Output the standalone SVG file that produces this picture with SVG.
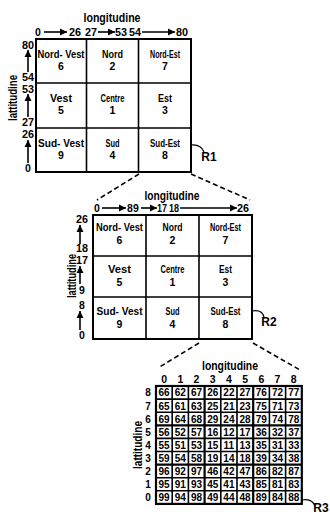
<svg xmlns="http://www.w3.org/2000/svg" width="330" height="521" viewBox="0 0 330 521">
<style>
text{font-family:"Liberation Sans",Arial,sans-serif;font-weight:bold;fill:#000;text-anchor:middle}
.lbl{font-size:10.5px}
.ax{font-size:10.5px}
.ttl{font-size:12px}
.num{font-size:10px}
.box{fill:#fff;stroke:#000;stroke-width:2}
.ln{stroke:#000;stroke-width:1.6;fill:none}
.thk{stroke:#000;stroke-width:2.2;fill:none}
.arr{stroke:#000;stroke-width:1.6;fill:none;marker-end:url(#ah)}
.dash{stroke:#000;stroke-width:1.6;fill:none;stroke-dasharray:5 3}
.cur{stroke:#000;stroke-width:1.2;fill:none}
</style>
<defs>
<marker id="ah" markerUnits="userSpaceOnUse" markerWidth="8" markerHeight="8" refX="7" refY="4" orient="auto">
<path d="M0,0.5 L7,4 L0,7.5 Z" fill="#000"/>
</marker>
</defs>

<g id="R1">
<rect class="box" x="36" y="39" width="155" height="133"/>
<path class="ln" d="M86.5,39V172M138.5,39V172M36,83H191M36,128H191"/>
<text class="ttl" x="112" y="21.5" textLength="57" lengthAdjust="spacingAndGlyphs">longitudine</text>
<g class="ax">
<text x="38" y="36">0</text><text x="75" y="36" textLength="12" lengthAdjust="spacingAndGlyphs">26</text><text x="91" y="36" textLength="12" lengthAdjust="spacingAndGlyphs">27</text>
<text x="121" y="36" textLength="12" lengthAdjust="spacingAndGlyphs">53</text><text x="135" y="36" textLength="12" lengthAdjust="spacingAndGlyphs">54</text><text x="182" y="36" textLength="12" lengthAdjust="spacingAndGlyphs">80</text>
<text x="28" y="49" textLength="12" lengthAdjust="spacingAndGlyphs">80</text><text x="28" y="80.5" textLength="12" lengthAdjust="spacingAndGlyphs">54</text><text x="28" y="92.5" textLength="12" lengthAdjust="spacingAndGlyphs">53</text>
<text x="28" y="126" textLength="12" lengthAdjust="spacingAndGlyphs">27</text><text x="28" y="138" textLength="12" lengthAdjust="spacingAndGlyphs">26</text><text x="28" y="172">0</text>
</g>
<text class="ttl" transform="translate(17,98) rotate(-90)" textLength="46" lengthAdjust="spacingAndGlyphs">lattitudine</text>
<g class="lbl">
<text x="61" y="57.5" textLength="47" lengthAdjust="spacingAndGlyphs">Nord- Vest</text><text x="61" y="70">6</text>
<text x="112.5" y="57.5" textLength="21" lengthAdjust="spacingAndGlyphs">Nord</text><text x="112.5" y="70">2</text>
<text x="165" y="57.5" textLength="30" lengthAdjust="spacingAndGlyphs">Nord-Est</text><text x="165" y="70">7</text>
<text x="61" y="101.5" textLength="22" lengthAdjust="spacingAndGlyphs">Vest</text><text x="61" y="114">5</text>
<text x="112.5" y="101.5" textLength="24" lengthAdjust="spacingAndGlyphs">Centre</text><text x="112.5" y="114">1</text>
<text x="165" y="101.5" textLength="14" lengthAdjust="spacingAndGlyphs">Est</text><text x="165" y="114">3</text>
<text x="61" y="146.5" textLength="46" lengthAdjust="spacingAndGlyphs">Sud- Vest</text><text x="61" y="159">9</text>
<text x="112.5" y="146.5" textLength="14" lengthAdjust="spacingAndGlyphs">Sud</text><text x="112.5" y="159">4</text>
<text x="165" y="146.5" textLength="30" lengthAdjust="spacingAndGlyphs">Sud-Est</text><text x="165" y="159">8</text>
</g>
<text class="ttl" x="209" y="161">R1</text>
</g>

<g id="R2">
<rect class="box" x="93" y="215" width="159" height="124"/>
<path class="ln" d="M146,215V339M199,215V339M93,256H252M93,297H252"/>
<text class="ttl" x="172" y="200" textLength="55" lengthAdjust="spacingAndGlyphs">longitudine</text>
<g class="ax">
<text x="97" y="212">0</text><text x="130" y="212">8</text><text x="136" y="212">9</text>
<text x="162" y="212" textLength="10" lengthAdjust="spacingAndGlyphs">17</text><text x="174" y="212" textLength="10" lengthAdjust="spacingAndGlyphs">18</text><text x="243" y="212" textLength="12" lengthAdjust="spacingAndGlyphs">26</text>
<text x="82" y="223" textLength="12" lengthAdjust="spacingAndGlyphs">26</text><text x="82" y="252" textLength="12" lengthAdjust="spacingAndGlyphs">18</text><text x="82" y="264" textLength="12" lengthAdjust="spacingAndGlyphs">17</text>
<text x="82" y="294">9</text><text x="82" y="309">8</text><text x="82" y="339">0</text>
</g>
<text class="ttl" transform="translate(76,276) rotate(-90)" textLength="44" lengthAdjust="spacingAndGlyphs">lattitudine</text>
<g class="lbl">
<text x="119.5" y="231" textLength="47" lengthAdjust="spacingAndGlyphs">Nord- Vest</text><text x="119.5" y="243.5">6</text>
<text x="172.5" y="231" textLength="20" lengthAdjust="spacingAndGlyphs">Nord</text><text x="172.5" y="243.5">2</text>
<text x="225.5" y="231" textLength="31" lengthAdjust="spacingAndGlyphs">Nord-Est</text><text x="225.5" y="243.5">7</text>
<text x="119.5" y="273" textLength="23" lengthAdjust="spacingAndGlyphs">Vest</text><text x="119.5" y="285.5">5</text>
<text x="172.5" y="273" textLength="24" lengthAdjust="spacingAndGlyphs">Centre</text><text x="172.5" y="285.5">1</text>
<text x="225.5" y="273" textLength="13" lengthAdjust="spacingAndGlyphs">Est</text><text x="225.5" y="285.5">3</text>
<text x="119.5" y="315" textLength="46" lengthAdjust="spacingAndGlyphs">Sud- Vest</text><text x="119.5" y="327.5">9</text>
<text x="172.5" y="315" textLength="14" lengthAdjust="spacingAndGlyphs">Sud</text><text x="172.5" y="327.5">4</text>
<text x="225.5" y="315" textLength="30" lengthAdjust="spacingAndGlyphs">Sud-Est</text><text x="225.5" y="327.5">8</text>
</g>
<text class="ttl" x="269" y="326">R2</text>
</g>

<g id="R3">
<rect x="156" y="386" width="145.8" height="117.9" fill="#fff" stroke="#000" stroke-width="2.2"/>
<path class="ln" d="M172.2,386V503.9M188.4,386V503.9M220.8,386V503.9M237,386V503.9M269.4,386V503.9M285.6,386V503.9M156,399.1H301.8M156,412.2H301.8M156,438.4H301.8M156,451.5H301.8M156,477.7H301.8M156,490.8H301.8"/>
<path class="thk" d="M204.6,386V503.9M253.2,386V503.9M156,425.3H301.8M156,464.6H301.8"/>
<text class="ttl" x="230" y="370" textLength="56" lengthAdjust="spacingAndGlyphs">longitudine</text>
<g class="ax">
<text x="164.1" y="382.5">0</text><text x="180.3" y="382.5">1</text><text x="196.5" y="382.5">2</text><text x="212.7" y="382.5">3</text><text x="228.9" y="382.5">4</text><text x="245.1" y="382.5">5</text><text x="261.3" y="382.5">6</text><text x="277.5" y="382.5">7</text><text x="293.7" y="382.5">8</text>
</g>
<g class="num">
<text x="148" y="396.4">8</text><text x="148" y="409.5">7</text><text x="148" y="422.6">6</text><text x="148" y="435.7">5</text><text x="148" y="448.8">4</text><text x="148" y="461.9">3</text><text x="148" y="475">2</text><text x="148" y="488.1">1</text><text x="148" y="501.2">0</text>
</g>
<text class="ttl" transform="translate(142,445) rotate(-90)" textLength="48" lengthAdjust="spacingAndGlyphs">lattitudine</text>
<g class="num">
<text x="164.1" y="396.4">66</text><text x="180.3" y="396.4">62</text><text x="196.5" y="396.4">67</text><text x="212.7" y="396.4">26</text><text x="228.9" y="396.4">22</text><text x="245.1" y="396.4">27</text><text x="261.3" y="396.4">76</text><text x="277.5" y="396.4">72</text><text x="293.7" y="396.4">77</text>
<text x="164.1" y="409.5">65</text><text x="180.3" y="409.5">61</text><text x="196.5" y="409.5">63</text><text x="212.7" y="409.5">25</text><text x="228.9" y="409.5">21</text><text x="245.1" y="409.5">23</text><text x="261.3" y="409.5">75</text><text x="277.5" y="409.5">71</text><text x="293.7" y="409.5">73</text>
<text x="164.1" y="422.6">69</text><text x="180.3" y="422.6">64</text><text x="196.5" y="422.6">68</text><text x="212.7" y="422.6">29</text><text x="228.9" y="422.6">24</text><text x="245.1" y="422.6">28</text><text x="261.3" y="422.6">79</text><text x="277.5" y="422.6">74</text><text x="293.7" y="422.6">78</text>
<text x="164.1" y="435.7">56</text><text x="180.3" y="435.7">52</text><text x="196.5" y="435.7">57</text><text x="212.7" y="435.7">16</text><text x="228.9" y="435.7">12</text><text x="245.1" y="435.7">17</text><text x="261.3" y="435.7">36</text><text x="277.5" y="435.7">32</text><text x="293.7" y="435.7">37</text>
<text x="164.1" y="448.8">55</text><text x="180.3" y="448.8">51</text><text x="196.5" y="448.8">53</text><text x="212.7" y="448.8">15</text><text x="228.9" y="448.8">11</text><text x="245.1" y="448.8">13</text><text x="261.3" y="448.8">35</text><text x="277.5" y="448.8">31</text><text x="293.7" y="448.8">33</text>
<text x="164.1" y="461.9">59</text><text x="180.3" y="461.9">54</text><text x="196.5" y="461.9">58</text><text x="212.7" y="461.9">19</text><text x="228.9" y="461.9">14</text><text x="245.1" y="461.9">18</text><text x="261.3" y="461.9">39</text><text x="277.5" y="461.9">34</text><text x="293.7" y="461.9">38</text>
<text x="164.1" y="475">96</text><text x="180.3" y="475">92</text><text x="196.5" y="475">97</text><text x="212.7" y="475">46</text><text x="228.9" y="475">42</text><text x="245.1" y="475">47</text><text x="261.3" y="475">86</text><text x="277.5" y="475">82</text><text x="293.7" y="475">87</text>
<text x="164.1" y="488.1">95</text><text x="180.3" y="488.1">91</text><text x="196.5" y="488.1">93</text><text x="212.7" y="488.1">45</text><text x="228.9" y="488.1">41</text><text x="245.1" y="488.1">43</text><text x="261.3" y="488.1">85</text><text x="277.5" y="488.1">81</text><text x="293.7" y="488.1">83</text>
<text x="164.1" y="501.2">99</text><text x="180.3" y="501.2">94</text><text x="196.5" y="501.2">98</text><text x="212.7" y="501.2">49</text><text x="228.9" y="501.2">44</text><text x="245.1" y="501.2">48</text><text x="261.3" y="501.2">89</text><text x="277.5" y="501.2">84</text><text x="293.7" y="501.2">88</text>
</g>
<text class="ttl" x="321" y="512">R3</text>
</g>

<g id="connectors">
<path class="arr" d="M44,32H67"/>
<path class="arr" d="M98,32H115"/>
<path class="arr" d="M142,32H175"/>
<path class="arr" d="M28,72V50"/>
<path class="arr" d="M28,117V94"/>
<path class="arr" d="M28,163V140"/>
<path class="arr" d="M102,208H126"/>
<path class="arr" d="M141,208H157"/>
<path class="arr" d="M180,208H237"/>
<path class="arr" d="M80,244V225"/>
<path class="arr" d="M80,284V266"/>
<path class="arr" d="M80,330V311"/>
<path class="dash" d="M139,174L97,200"/>
<path class="dash" d="M191,174L250,200"/>
<path class="dash" d="M199,343L158,368"/>
<path class="dash" d="M253,343L300,370"/>
<path class="cur" d="M191,145Q201,144 204,152"/>
<path class="cur" d="M252,311Q262,309 264,317"/>
<path class="cur" d="M302,500Q312,498 315,506"/>
</g>
</svg>
